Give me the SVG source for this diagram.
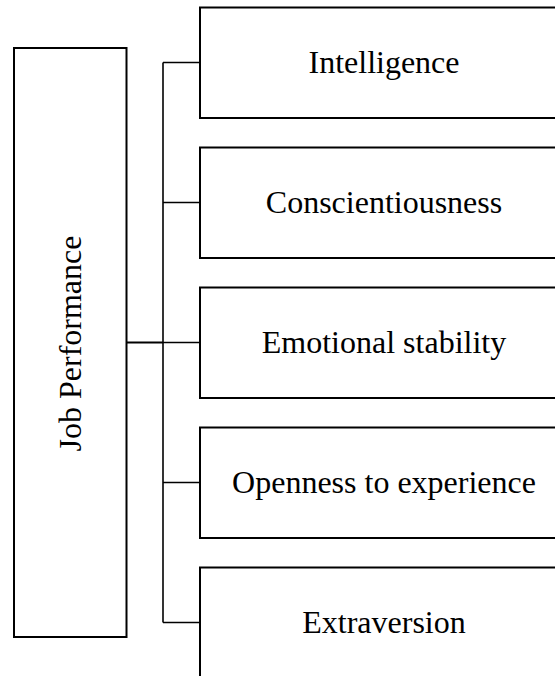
<svg xmlns="http://www.w3.org/2000/svg" width="555" height="676" viewBox="0 0 555 676">
<style>
.box{fill:#fff;stroke:#000;stroke-width:2}
.ln{fill:none;stroke:#000;stroke-width:1.6}
.t{font-family:"Liberation Serif","Times New Roman",serif;font-size:32px;fill:#000;text-anchor:middle}
</style>
<rect width="555" height="676" fill="#fff"/>
<g id="connectors">
<path class="ln" d="M163 62.5V622.5"/>
<path class="ln" d="M163 62.5H200M163 202.5H200M163 342.5H200M163 482.5H200M163 622.5H200"/>
<path class="ln" style="stroke-width:2.2" d="M126.5 342.5H163"/>
</g>
<g id="job-performance">
<rect class="box" x="14" y="48" width="112.5" height="589"/>
<text class="t" transform="translate(80.5 343.5) rotate(-90)" x="0" y="0">Job Performance</text>
</g>
<g id="intelligence">
<rect class="box" x="200" y="7.5" width="370" height="110.5"/>
<text class="t" x="384" y="73.3">Intelligence</text>
</g>
<g id="conscientiousness">
<rect class="box" x="200" y="147.5" width="370" height="110.5"/>
<text class="t" x="384" y="213.3">Conscientiousness</text>
</g>
<g id="emotional-stability">
<rect class="box" x="200" y="287.5" width="370" height="110.5"/>
<text class="t" x="384" y="353.3">Emotional stability</text>
</g>
<g id="openness">
<rect class="box" x="200" y="427.5" width="370" height="110.5"/>
<text class="t" x="384" y="493.3">Openness to experience</text>
</g>
<g id="extraversion">
<rect class="box" x="200" y="567.5" width="370" height="115"/>
<text class="t" x="384" y="633.3">Extraversion</text>
</g>
</svg>
